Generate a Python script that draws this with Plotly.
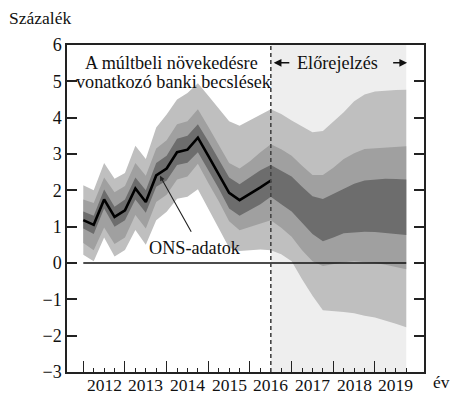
import plotly.graph_objects as go

# Quarterly time axis (decimal years), 2012 Q1 .. 2019 Q4
quarters = [2012.0 + 0.25 * i for i in range(32)]

# ONS GDP growth, annual %, 2012 Q1 .. 2016 Q3
ons = [1.18, 1.05, 1.75, 1.27, 1.45, 2.05, 1.68, 2.41, 2.60, 3.05,
       3.12, 3.45, 2.95, 2.45, 1.93, 1.73, 1.90, 2.08, 2.27]

# Fan chart bands (backcast + forecast), one value per quarter
light_hi = [2.14, 2.00, 2.75, 2.32, 2.48, 3.23, 2.86, 3.73, 4.09, 4.50,
            4.68, 4.95, 4.60, 4.25, 3.90, 3.78, 3.92, 4.08, 4.23, 4.10,
            3.92, 3.75, 3.60, 3.63, 3.88, 4.15, 4.45, 4.64, 4.72, 4.75,
            4.76, 4.77]
med_hi = [1.75, 1.65, 2.35, 1.95, 2.12, 2.75, 2.40, 3.15, 3.38, 3.82,
          3.90, 4.23, 3.75, 3.25, 2.75, 2.60, 2.80, 3.05, 3.27, 3.13,
          2.95, 2.68, 2.42, 2.42, 2.62, 2.86, 3.02, 3.14, 3.16, 3.18,
          3.20, 3.21]
dark_hi = [1.42, 1.30, 2.02, 1.55, 1.75, 2.35, 2.00, 2.75, 2.95, 3.42,
           3.50, 3.82, 3.35, 2.85, 2.35, 2.17, 2.35, 2.55, 2.70, 2.55,
           2.38, 2.10, 1.84, 1.76, 1.90, 2.05, 2.18, 2.27, 2.30, 2.32,
           2.31, 2.30]
dark_lo = [0.95, 0.80, 1.50, 1.00, 1.18, 1.75, 1.38, 2.10, 2.27, 2.70,
           2.76, 3.05, 2.55, 2.05, 1.50, 1.30, 1.45, 1.62, 1.82, 1.62,
           1.42, 1.10, 0.80, 0.60, 0.70, 0.82, 0.85, 0.86, 0.85, 0.82,
           0.80, 0.77]
med_lo = [0.55, 0.35, 0.98, 0.52, 0.70, 1.32, 0.95, 1.68, 1.88, 2.30,
          2.38, 2.73, 2.20, 1.70, 1.15, 0.90, 0.98, 1.08, 1.18, 0.97,
          0.72, 0.35, 0.05, -0.08, -0.02, 0.02, 0.05, 0.03, 0.00, -0.05,
          -0.10, -0.17]
light_lo = [0.23, 0.05, 0.70, 0.18, 0.36, 0.91, 0.50, 1.18, 1.41, 1.77,
            1.82, 2.03, 1.50, 0.95, 0.42, 0.33, 0.35, 0.37, 0.35, 0.24,
            0.05, -0.45, -0.90, -1.30, -1.33, -1.35, -1.38, -1.45, -1.50,
            -1.58, -1.67, -1.77]

years = [2012, 2013, 2014, 2015, 2016, 2017, 2018, 2019]
y_ticks = [-3, -2, -1, 0, 1, 2, 3, 4, 5, 6]

FONT = "Liberation Serif, 'Times New Roman', Times, serif"
C_LIGHT = "#bfbfbf"
C_MED = "#a0a0a0"
C_DARK = "#6d6d6d"
C_FORECAST = "#eeeeee"

forecast_start = quarters[len(ons) - 1]
forecast_end = quarters[-1]


def band(lo, hi, color):
    return go.Scatter(
        x=quarters + quarters[::-1],
        y=hi + lo[::-1],
        fill="toself",
        fillcolor=color,
        line=dict(width=0),
        mode="lines",
        hoverinfo="skip",
        showlegend=False,
    )


fig = go.Figure()
fig.add_trace(band(light_lo, light_hi, C_LIGHT))
fig.add_trace(band(med_lo, med_hi, C_MED))
fig.add_trace(band(dark_lo, dark_hi, C_DARK))
fig.add_trace(go.Scatter(
    x=quarters[:len(ons)], y=ons, mode="lines",
    line=dict(color="black", width=2.6),
    showlegend=False, hoverinfo="skip",
))

# Forecast period background, zero line and the forecast divider
fig.add_shape(type="rect", xref="x", yref="paper",
              x0=forecast_start, x1=forecast_end, y0=0, y1=1,
              fillcolor=C_FORECAST, line=dict(width=0), layer="below")
fig.add_shape(type="line", xref="x", yref="y",
              x0=quarters[0], x1=forecast_end, y0=0, y1=0,
              line=dict(color="#111111", width=1.6), layer="above")
fig.add_shape(type="line", xref="x", yref="paper",
              x0=forecast_start, x1=forecast_start, y0=0, y1=1,
              line=dict(color="#444444", width=1.6, dash="4px,3px"),
              layer="above")

ann = []
txt = dict(family=FONT, size=17.5, color="#111111")
txt_in = dict(family=FONT, size=18.2, color="#111111")
c = dict(xanchor="center", yanchor="middle", showarrow=False, font=txt)
ci = dict(xanchor="center", yanchor="middle", showarrow=False, font=txt_in)

# Year labels sit in the middle of each year
for yr in years:
    ann.append(dict(x=yr + 0.5, y=0, xref="x", yref="paper", text=str(yr),
                    showarrow=False, xanchor="center", yanchor="top",
                    yshift=-1, font=txt))

ann += [
    dict(x=-0.076, y=1.082, xref="paper", yref="paper", text="Százalék", **c),
    dict(x=1.05, y=-0.03, xref="paper", yref="paper", text="év", **c),
    dict(x=2014.105, y=5.51, xref="x", yref="y",
         text="A múltbeli növekedésre", **ci),
    dict(x=2014.165, y=4.99, xref="x", yref="y",
         text="vonatkozó banki becslések", **ci),
    dict(x=2018.09, y=5.51, xref="x", yref="y", text="Előrejelzés", **ci),
    # arrows either side of the forecast label
    dict(x=2016.57, y=5.51, ax=2016.98, ay=5.51, xref="x", yref="y",
         axref="x", ayref="y", text="", showarrow=True, arrowhead=2,
         arrowsize=1.1, arrowwidth=1.4, arrowcolor="#111111", standoff=0),
    dict(x=2019.77, y=5.51, ax=2019.4, ay=5.51, xref="x", yref="y",
         axref="x", ayref="y", text="", showarrow=True, arrowhead=2,
         arrowsize=1.1, arrowwidth=1.4, arrowcolor="#111111", standoff=0),
    # pointer to the ONS line
    dict(x=2013.84, y=2.40, ax=2014.61, ay=0.82, xref="x", yref="y",
         axref="x", ayref="y", text="", showarrow=True, arrowhead=2,
         arrowsize=0.9, arrowwidth=1.1, arrowcolor="#222222", standoff=0),
    dict(x=2014.68, y=0.41, xref="x", yref="y", text="ONS-adatok", **ci),
]

fig.update_layout(
    width=452, height=394,
    margin=dict(l=67, r=28, t=45, b=19),
    paper_bgcolor="white", plot_bgcolor="white",
    font=dict(family=FONT, size=17.5, color="#111111"),
    annotations=ann,
    showlegend=False,
)
fig.update_xaxes(
    range=[2011.609, 2020.176],
    tickmode="array", tickvals=years, showticklabels=False,
    ticks="inside", ticklen=11, tickwidth=1.2, tickcolor="#222222",
    minor=dict(tickmode="array", tickvals=quarters, ticks="inside",
               ticklen=4, tickwidth=1.2, tickcolor="#222222"),
    showline=True, linecolor="#222222", linewidth=1.5, mirror=True,
    showgrid=False, zeroline=False,
)
fig.update_yaxes(
    range=[-3, 6], tickmode="array", tickvals=y_ticks,
    ticks="inside", ticklen=10, tickwidth=1.5, tickcolor="#222222",
    showline=True, linecolor="#222222", linewidth=1.5, mirror="ticks",
    showgrid=False, zeroline=False,
    tickfont=dict(family=FONT, size=18, color="#111111"),
)

fig.write_html("out.html")
